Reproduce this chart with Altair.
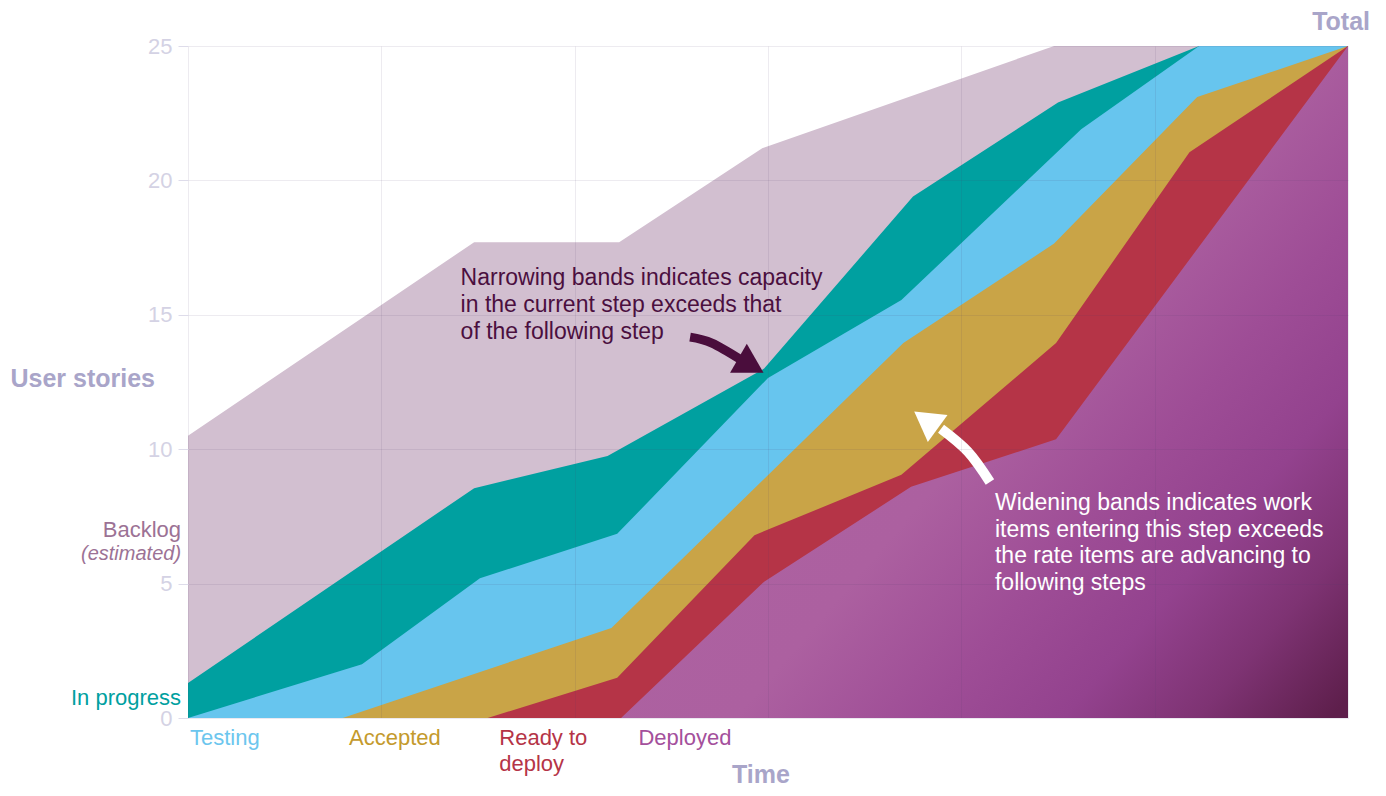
import altair as alt
import pandas as pd

FONT = "Liberation Sans"

# ---- cumulative flow data (x in grid units 0..6, y = user stories) ----
backlog_x = [0, 1.48, 2.23, 2.97, 4.48, 6]
backlog_y = [10.5, 17.7, 17.7, 21.2, 25, 25]
progress_x = [0, 1.48, 2.17, 2.98, 3.75, 4.5, 5.23, 6]
progress_y = [1.3, 8.55, 9.75, 13.0, 19.4, 22.9, 25, 25]
testing_x = [0, 0.9, 1.51, 2.22, 3.0, 3.69, 4.62, 5.23, 6]
testing_y = [0, 2.0, 5.2, 6.85, 12.65, 15.55, 21.9, 25, 25]
accepted_x = [0, 0.8, 2.19, 3.7, 4.48, 5.22, 6]
accepted_y = [0, 0, 3.35, 13.95, 17.65, 23.1, 25]
ready_x = [0, 1.55, 2.22, 2.93, 3.69, 4.49, 5.18, 6]
ready_y = [0, 0, 1.5, 6.8, 9.05, 13.95, 21.05, 25]
deployed_x = [0, 2.24, 2.98, 3.74, 4.49, 6]
deployed_y = [0, 0, 5.07, 8.6, 10.37, 25]

series_colors = {
    "Backlog": "#d2bfd0",
    "In progress": "#00a0a0",
    "Testing": "#67c5ee",
    "Accepted": "#c9a447",
    "Ready to deploy": "#b53447",
}

# ---- category labels under the time axis ----
cat_text = ["Testing", "Accepted", "Ready to\ndeploy", "Deployed"]
cat_x = [0.01, 0.833, 1.61, 2.33]
cat_y = [-1.0, -1.0, -1.0, -1.0]
cat_color = ["#6cc6ee", "#c49a2c", "#b53447", "#a4509c"]

# ---- labels left of the plot ----
left_text = ["Backlog", "In progress"]
left_x = [-0.036, -0.036]
left_y = [6.745, 0.484]
left_color = ["#9c7295", "#00a0a0"]

# ---- annotations ----
narrow_text = "Narrowing bands indicates capacity\nin the current step exceeds that\nof the following step"
narrow_pos = (1.41, 16.11)
widen_text = "Widening bands indicates work\nitems entering this step exceeds\nthe rate items are advancing to\nfollowing steps"
widen_pos = (4.174, 7.74)

dark_arrow_x = [2.597, 2.71, 2.86]
dark_arrow_y = [14.17, 13.95, 13.33]
dark_head = (2.912, 13.11, 120)
white_arrow_x = [4.148, 4.035, 3.895]
white_arrow_y = [8.78, 9.90, 10.76]
white_head = (3.817, 11.09, 306)

W, H = 1160, 672
xs = alt.Scale(domain=[0, 6], nice=False, zero=False)
ys = alt.Scale(domain=[0, 25], nice=False)

grid_color = "#4a3a6a"

x_enc = alt.X(
    "x:Q", scale=xs, title=None,
    axis=alt.Axis(values=[0, 1, 2, 3, 4, 5, 6], labels=False, ticks=False,
                  domain=True, domainColor="#ebe9f0", grid=True,
                  gridColor=grid_color, gridOpacity=0.1, zindex=1),
)
y_enc = alt.Y(
    "y:Q", scale=ys,
    axis=alt.Axis(values=[0, 5, 10, 15, 20, 25], title="User stories",
                  titleAngle=0, titleAlign="left", titleBaseline="middle",
                  titleX=-178, titleY=332, titleFont=FONT, titleFontSize=25,
                  titleFontWeight="bold", titleColor="#a9a5c9",
                  labelColor="#d4d2e4", labelFont=FONT, labelFontSize=22,
                  tickColor="#dedcea", tickSize=10, labelPadding=6,
                  domain=False, grid=True, gridColor=grid_color,
                  gridOpacity=0.1, zindex=1),
)


def band(xv, yv, color):
    df = pd.DataFrame({"x": xv, "y": yv})
    return alt.Chart(df).mark_area(color=color, opacity=1, interpolate="linear").encode(
        x=alt.X("x:Q", scale=xs), y=alt.Y("y:Q", scale=ys))


base_backlog = alt.Chart(pd.DataFrame({"x": backlog_x, "y": backlog_y})).mark_area(
    color=series_colors["Backlog"], opacity=1).encode(x=x_enc, y=y_enc)

layers = [
    base_backlog,
    band(progress_x, progress_y, series_colors["In progress"]),
    band(testing_x, testing_y, series_colors["Testing"]),
    band(accepted_x, accepted_y, series_colors["Accepted"]),
    band(ready_x, ready_y, series_colors["Ready to deploy"]),
]

deployed_grad = alt.Gradient(
    gradient="linear",
    stops=[
        alt.GradientStop(color="#ae63a1", offset=0),
        alt.GradientStop(color="#ac60a0", offset=0.42),
        alt.GradientStop(color="#9e4d96", offset=0.6),
        alt.GradientStop(color="#93428e", offset=0.74),
        alt.GradientStop(color="#7e3373", offset=0.87),
        alt.GradientStop(color="#5e1f4c", offset=1),
    ],
    x1=0.48, y1=0.24, x2=1.188, y2=0.594,
)
layers.append(
    alt.Chart(pd.DataFrame({"x": deployed_x, "y": deployed_y})).mark_area(
        color=deployed_grad, opacity=1).encode(
        x=alt.X("x:Q", scale=xs), y=alt.Y("y:Q", scale=ys)))

# arrows
def arrow(xv, yv, head, color, width):
    shaft = alt.Chart(pd.DataFrame({"x": xv, "y": yv})).mark_line(
        color=color, strokeWidth=width, interpolate="natural", strokeCap="butt").encode(
        x=alt.X("x:Q", scale=xs), y=alt.Y("y:Q", scale=ys))
    tip = alt.Chart(pd.DataFrame({"x": [head[0]], "y": [head[1]]})).mark_point(
        shape="triangle-up", filled=True, opacity=1, color=color, size=1120,
        angle=head[2], strokeWidth=0).encode(
        x=alt.X("x:Q", scale=xs), y=alt.Y("y:Q", scale=ys))
    return [shaft, tip]

layers += arrow(dark_arrow_x, dark_arrow_y, dark_head, "#4a0d3c", 9)
layers += arrow(white_arrow_x, white_arrow_y, white_head, "#ffffff", 10)

# annotation texts
layers.append(alt.Chart(pd.DataFrame({"x": [narrow_pos[0]], "y": [narrow_pos[1]], "t": [narrow_text]}))
              .mark_text(align="left", baseline="alphabetic", font=FONT, fontSize=23,
                         lineBreak="\n", lineHeight=27, color="#4b0f3f")
              .encode(x=alt.X("x:Q", scale=xs), y=alt.Y("y:Q", scale=ys), text="t:N"))
layers.append(alt.Chart(pd.DataFrame({"x": [widen_pos[0]], "y": [widen_pos[1]], "t": [widen_text]}))
              .mark_text(align="left", baseline="alphabetic", font=FONT, fontSize=23,
                         lineBreak="\n", lineHeight=26.7, color="#ffffff")
              .encode(x=alt.X("x:Q", scale=xs), y=alt.Y("y:Q", scale=ys), text="t:N"))

# category labels
layers.append(alt.Chart(pd.DataFrame({"x": cat_x, "y": cat_y, "t": cat_text, "c": cat_color}))
              .mark_text(align="left", baseline="alphabetic", font=FONT, fontSize=22,
                         lineBreak="\n", lineHeight=26)
              .encode(x=alt.X("x:Q", scale=xs), y=alt.Y("y:Q", scale=ys), text="t:N",
                      color=alt.Color("c:N", scale=None)))

# left labels
layers.append(alt.Chart(pd.DataFrame({"x": left_x, "y": left_y, "t": left_text, "c": left_color}))
              .mark_text(align="right", baseline="alphabetic", font=FONT, fontSize=22)
              .encode(x=alt.X("x:Q", scale=xs), y=alt.Y("y:Q", scale=ys), text="t:N",
                      color=alt.Color("c:N", scale=None)))
layers.append(alt.Chart(pd.DataFrame({"x": [-0.036], "y": [5.88], "t": ["(estimated)"]}))
              .mark_text(align="right", baseline="alphabetic", font=FONT, fontSize=20,
                         fontStyle="italic", color="#9c7295")
              .encode(x=alt.X("x:Q", scale=xs), y=alt.Y("y:Q", scale=ys), text="t:N"))

# Total / Time titles
layers.append(alt.Chart(pd.DataFrame({"x": [6.114], "y": [25.6], "t": ["Total"]}))
              .mark_text(align="right", baseline="alphabetic", font=FONT, fontSize=25,
                         fontWeight="bold", color="#a9a5c9")
              .encode(x=alt.X("x:Q", scale=xs), y=alt.Y("y:Q", scale=ys), text="t:N"))
layers.append(alt.Chart(pd.DataFrame({"x": [2.963], "y": [-2.4], "t": ["Time"]}))
              .mark_text(align="center", baseline="alphabetic", font=FONT, fontSize=25,
                         fontWeight="bold", color="#a9a5c9")
              .encode(x=alt.X("x:Q", scale=xs), y=alt.Y("y:Q", scale=ys), text="t:N"))

chart = alt.layer(*layers).properties(
    width=W, height=H,
    autosize=alt.AutoSizeParams(type="none"),
    padding={"left": 180, "top": 38, "right": 30, "bottom": 70},
    background="white",
).configure_view(stroke=None)

chart.save("out.html", embed_options={"renderer": "svg", "actions": False})
